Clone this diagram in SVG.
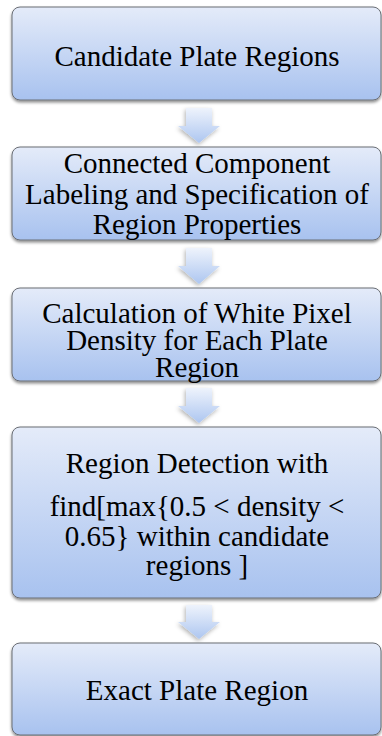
<svg xmlns="http://www.w3.org/2000/svg" width="382" height="736" viewBox="0 0 382 736">
<defs>
<linearGradient id="boxGrad" x1="0" y1="0" x2="0" y2="1">
<stop offset="0" stop-color="#e4ebf9"/>
<stop offset="1" stop-color="#a8c2ef"/>
</linearGradient>
<linearGradient id="arrGrad" x1="0" y1="0" x2="0" y2="1">
<stop offset="0" stop-color="#eef3fc"/>
<stop offset="1" stop-color="#adc6f0"/>
</linearGradient>
<filter id="shadow" x="-10%" y="-10%" width="120%" height="130%">
<feDropShadow dx="0" dy="2" stdDeviation="1.8" flood-color="#000" flood-opacity="0.45"/>
</filter>
<filter id="ashadow" x="-30%" y="-30%" width="160%" height="160%">
<feDropShadow dx="-1" dy="2" stdDeviation="2" flood-color="#000" flood-opacity="0.3"/>
</filter>
</defs>
<style>
.box{fill:url(#boxGrad);stroke:#6a6e75;stroke-width:1;filter:url(#shadow)}
.arr{fill:url(#arrGrad);filter:url(#ashadow)}
.t{font-family:"Liberation Serif","Times New Roman",serif;font-size:29px;fill:#000;text-anchor:middle}
</style>
<g id="connectors">
<path class="arr" d="M186,108 H212 V126 H220 L199,143 L178,126 H186 Z"/>
<path class="arr" d="M186,248 H212 V266 H220 L199,284 L178,266 H186 Z"/>
<path class="arr" d="M186,388 H212 V406 H220 L199,423 L178,406 H186 Z"/>
<path class="arr" d="M186,605 H212 V622 H220 L199,639 L178,622 H186 Z"/>
</g>
<g id="node1">
<rect class="box" x="12" y="7" width="369" height="93" rx="8"/>
<text class="t" x="197" y="66">Candidate Plate Regions</text>
</g>
<g id="node2">
<rect class="box" x="12" y="147" width="369" height="93" rx="8"/>
<text class="t" x="197" y="173">Connected Component</text>
<text class="t" x="197" y="204">Labeling and Specification of</text>
<text class="t" x="197" y="234">Region Properties</text>
</g>
<g id="node3">
<rect class="box" x="12" y="288" width="369" height="93" rx="8"/>
<text class="t" x="197" y="323">Calculation of White Pixel</text>
<text class="t" x="197" y="350">Density for Each Plate</text>
<text class="t" x="197" y="377">Region</text>
</g>
<g id="node4">
<rect class="box" x="12" y="427" width="369" height="171" rx="8"/>
<text class="t" x="197" y="473">Region Detection with</text>
<text class="t" x="197" y="516">find[max{0.5 &lt; density &lt;</text>
<text class="t" x="197" y="546">0.65} within candidate</text>
<text class="t" x="197" y="575">regions ]</text>
</g>
<g id="node5">
<rect class="box" x="12" y="643" width="369" height="92" rx="8"/>
<text class="t" x="197" y="700">Exact Plate Region</text>
</g>
</svg>
